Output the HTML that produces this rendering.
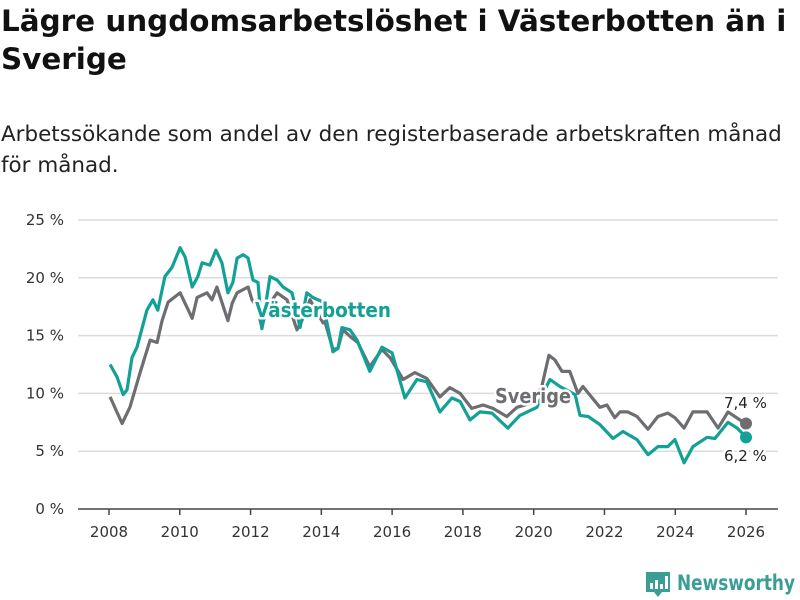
<!DOCTYPE html>
<html><head><meta charset="utf-8">
<style>
body{margin:0;width:800px;height:600px;background:#fff;font-family:"DejaVu Sans","Liberation Sans",sans-serif;overflow:hidden;position:relative;color:#111}
.ln{position:absolute;left:1px;white-space:nowrap;margin:0}
#t1,#t2{font-weight:bold;font-size:28px;color:#111}
#s1,#s2{font-size:20px;color:#222}
svg{position:absolute;left:0;top:0}
</style></head><body>
<div>
<span id="t1" class="ln" style="top:4px">Lägre ungdomsarbetslöshet i Västerbotten än i</span>
<span id="t2" class="ln" style="top:42px">Sverige</span>
</div>
<div>
<span id="s1" class="ln" style="top:122px">Arbetssökande som andel av den registerbaserade arbetskraften månad</span>
<span id="s2" class="ln" style="top:153px">för månad.</span>
</div>
<svg id="chart" width="800" height="600"></svg>
<script>
const yTicks=[0,5,10,15,20,25];
const xTicks=[2008,2010,2012,2014,2016,2018,2020,2022,2024,2026];
const sverigeT=[2008.03,2008.37,2008.59,2008.88,2009.16,2009.36,2009.5,2009.67,2010.01,2010.35,2010.49,2010.77,2010.91,2011.05,2011.36,2011.48,2011.62,2011.93,2012.04,2012.18,2012.32,2012.46,2012.75,2013.03,2013.31,2013.45,2013.68,2014.05,2014.1,2014.33,2014.47,2014.61,2014.86,2015.03,2015.37,2015.71,2015.94,2016.31,2016.64,2016.98,2017.35,2017.63,2017.92,2018.25,2018.57,2018.85,2019.24,2019.53,2019.98,2020.23,2020.43,2020.6,2020.8,2021.02,2021.25,2021.39,2021.87,2022.07,2022.29,2022.44,2022.66,2022.92,2023.23,2023.51,2023.79,2023.99,2024.25,2024.5,2024.9,2025.21,2025.49,2025.83,2026.0];
const sverigeV=[9.7,7.4,8.8,11.8,14.6,14.4,16.3,17.9,18.7,16.5,18.3,18.7,18.1,19.2,16.3,17.8,18.7,19.2,18.1,17.5,15.7,17.4,18.7,18.1,15.5,16.3,18.1,16.1,16.2,13.8,13.9,15.5,14.8,14.4,12.3,13.8,13.1,11.2,11.8,11.3,9.7,10.5,10.0,8.7,9.0,8.7,8.0,8.8,9.2,10.6,13.3,12.9,11.9,11.9,10.0,10.6,8.8,9.0,7.9,8.4,8.4,8.0,6.9,8.0,8.3,7.9,7.0,8.4,8.4,7.0,8.4,7.7,7.4];
const vbT=[2008.03,2008.23,2008.4,2008.51,2008.65,2008.79,2009.07,2009.24,2009.38,2009.58,2009.78,2010.01,2010.15,2010.35,2010.51,2010.63,2010.85,2011.02,2011.19,2011.36,2011.5,2011.62,2011.79,2011.93,2012.07,2012.21,2012.32,2012.55,2012.75,2012.92,2013.17,2013.4,2013.59,2013.76,2014.05,2014.16,2014.33,2014.47,2014.58,2014.81,2015.01,2015.37,2015.71,2016.0,2016.36,2016.7,2016.98,2017.35,2017.69,2017.92,2018.2,2018.48,2018.82,2019.27,2019.61,2020.09,2020.26,2020.46,2020.74,2021.17,2021.31,2021.54,2021.87,2022.24,2022.52,2022.92,2023.23,2023.51,2023.79,2023.99,2024.25,2024.5,2024.9,2025.12,2025.49,2025.75,2026.0];
const vbV=[12.5,11.4,9.9,10.3,13.1,14.0,17.2,18.1,17.2,20.1,20.9,22.6,21.8,19.2,20.1,21.3,21.1,22.4,21.3,18.7,19.6,21.7,22.0,21.7,19.8,19.6,15.6,20.1,19.8,19.2,18.7,15.7,18.7,18.3,17.9,16.1,13.6,13.9,15.7,15.5,14.6,11.9,14.0,13.5,9.6,11.2,11.0,8.4,9.6,9.3,7.7,8.4,8.3,7.0,8.1,8.8,10.0,11.2,10.6,9.9,8.1,8.0,7.3,6.1,6.7,6.0,4.7,5.4,5.4,6.0,4.0,5.4,6.2,6.1,7.5,7.0,6.2];

// fit text lines to reference widths
function fit(id,w){const e=document.getElementById(id);const fs=parseFloat(getComputedStyle(e).fontSize);e.style.fontSize=(fs*w/e.getBoundingClientRect().width)+'px';}
fit('t1',786);fit('s1',781);
document.getElementById('t2').style.fontSize=document.getElementById('t1').style.fontSize;
document.getElementById('s2').style.fontSize=document.getElementById('s1').style.fontSize;

const NS="http://www.w3.org/2000/svg";
const svg=document.getElementById('chart');
const X=t=>109+(t-2008)*35.39;
const Y=v=>509-v*11.56;
function mk(tag,attrs,parent){const e=document.createElementNS(NS,tag);for(const k in attrs)e.setAttribute(k,attrs[k]);(parent||svg).appendChild(e);return e;}
yTicks.forEach(v=>{
  if(v>0){const g=mk('line',{x1:78,x2:778,y1:Y(v),y2:Y(v),stroke:'#dcdcdc','stroke-width':1.5});
  
  }
  const t=mk('text',{x:64,y:Y(v)+5,'text-anchor':'end','font-size':15,fill:'#333'});
  t.textContent=v+' %';
  
  
});
const ax=mk('line',{x1:78,x2:778,y1:509,y2:509,stroke:'#444','stroke-width':1.5});


xTicks.forEach(yr=>{
  mk('line',{x1:X(yr),x2:X(yr),y1:509,y2:515,stroke:'#444','stroke-width':1.5});
  const t=mk('text',{x:X(yr),y:537,'text-anchor':'middle','font-size':15,fill:'#333'});
  t.textContent=yr;
  
  
});
function series(T,V,color,name){
  const d=T.map((t,i)=>(i?'L':'M')+X(t).toFixed(1)+','+Y(V[i]).toFixed(1)).join('');
  const p=mk('path',{d:d,fill:'none',stroke:color,'stroke-width':3.2,'stroke-linejoin':'round'});
  
  
  const c=mk('circle',{cx:X(T[T.length-1]),cy:Y(V[V.length-1]),r:6,fill:color});
  
  
}
series(sverigeT,sverigeV,'#6e6d72','sverige');
series(vbT,vbV,'#13a197','vasterbotten');
function lbl(x,y,txt,color,name,size,bold,len){
  const a={x:x,y:y,'font-size':size,'font-weight':bold?'bold':'normal',fill:color,stroke:'#fff','stroke-width':5,'paint-order':'stroke','stroke-linejoin':'round'};
  if(len){a.textLength=len;a.lengthAdjust='spacingAndGlyphs';}
  const t=mk('text',a);
  t.textContent=txt;
  
  
}
lbl(255,317,'Västerbotten','#13a197','vasterbotten-label',20,true,136);
lbl(495,403,'Sverige','#6e6d72','sverige-label',20,true,76);
lbl(724,408,'7,4 %','#222','sverige-end-value',15,false);
lbl(724,461,'6,2 %','#222','vasterbotten-end-value',15,false);
const g=mk('g',{});


mk('path',{d:'M646,572h24v20h-8l-4,5l-4,-5h-8z',fill:'#3a9e95'},g);
mk('rect',{x:650,y:583,width:3,height:6,fill:'#fff'},g);
mk('rect',{x:655,y:580,width:3,height:9,fill:'#fff'},g);
mk('rect',{x:660,y:584,width:3,height:5,fill:'#fff'},g);
mk('rect',{x:665,y:576,width:3,height:13,fill:'#fff'},g);
const lt=mk('text',{x:677,y:590,'font-size':21,'font-weight':'bold',fill:'#3a9e95',textLength:118,lengthAdjust:'spacingAndGlyphs'},g);
lt.textContent='Newsworthy';
</script>
</body></html>
